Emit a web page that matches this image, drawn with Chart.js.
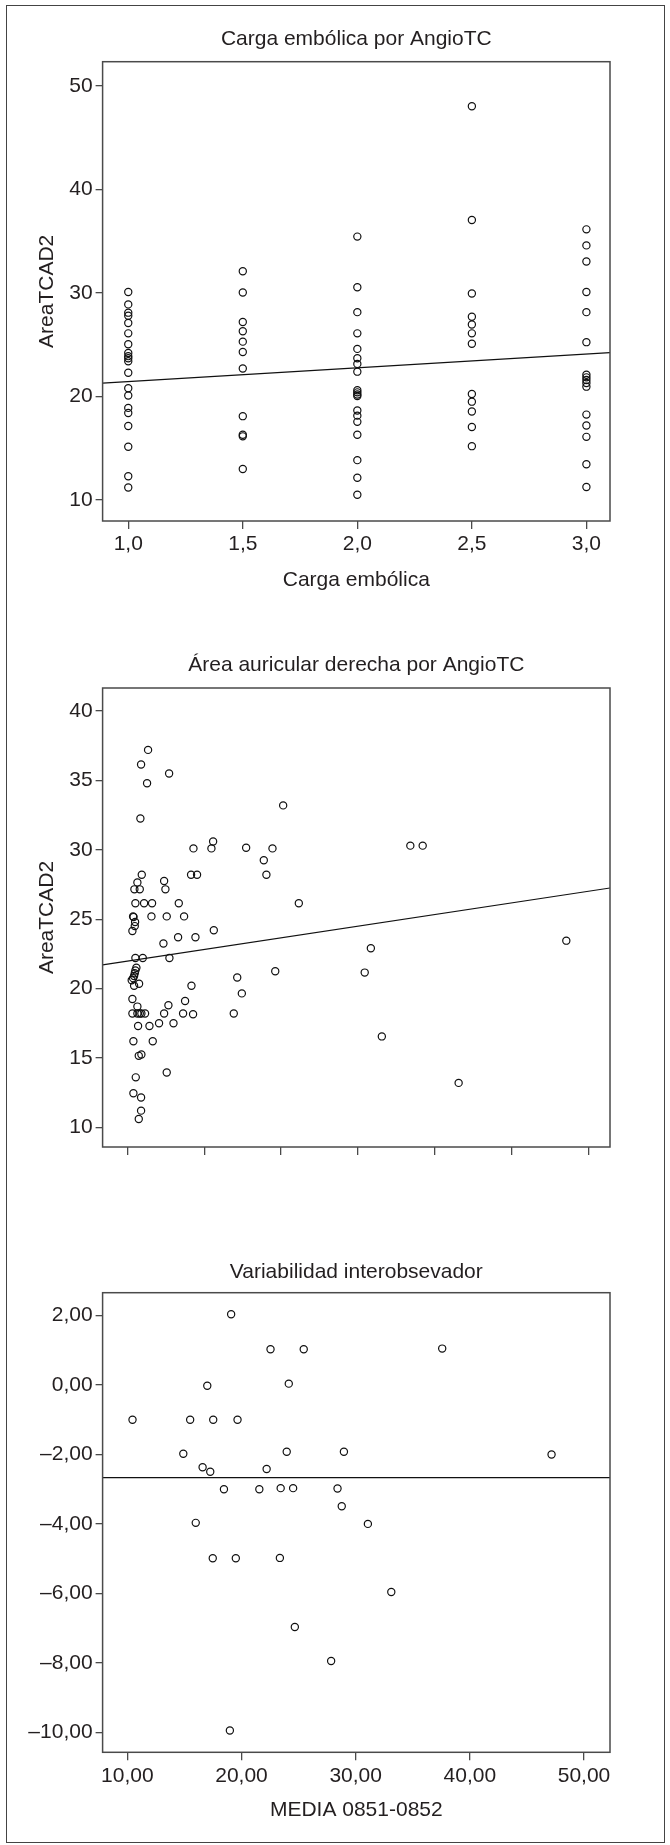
<!DOCTYPE html>
<html>
<head>
<meta charset="utf-8">
<script src="https://cdn.jsdelivr.net/npm/chart.js@4.4.1/dist/chart.umd.min.js"></script>
<style>
  body { margin: 0; background: #fff; }
  #page { position: relative; width: 670px; height: 1845px; }
  #page canvas { position: absolute; left: 0; }
  .border { position: absolute; left: 6px; top: 5px; width: 659px; height: 1838px;
            border: 1.5px solid #444; box-sizing: border-box; }
</style>
</head>
<body>
<div id="page">
  <div class="border"></div>
  <canvas id="carga" width="670" height="620" style="top:0;width:670px;height:620px"></canvas>
  <canvas id="auricular" width="670" height="580" style="top:620px;width:670px;height:580px"></canvas>
  <canvas id="variab" width="670" height="645" style="top:1200px;width:670px;height:645px"></canvas>
</div>
<script>
// --- Carga embólica por AngioTC ---
const CARGA_LEVELS = [1.0, 1.5, 2.0, 2.5, 3.0];
const AREA_CARGA_10 = [30.1, 28.9, 28.1, 27.8, 27.1, 26.1, 25.05, 24.2, 23.9, 23.7, 23.4, 22.3, 20.8, 20.1, 18.9, 18.4, 17.15, 15.15, 12.3, 11.2];
const AREA_CARGA_15 = [32.1, 30.05, 27.2, 26.3, 25.3, 24.3, 22.7, 18.1, 16.3, 16.15, 13.0];
const AREA_CARGA_20 = [35.45, 30.55, 28.15, 26.1, 24.6, 23.7, 23.15, 22.4, 20.6, 20.4, 20.2, 20.05, 18.65, 18.15, 17.55, 16.3, 13.85, 12.15, 10.5];
const AREA_CARGA_25 = [48.05, 37.05, 29.95, 27.7, 26.95, 26.1, 25.1, 20.25, 19.5, 18.55, 17.05, 15.2];
const AREA_CARGA_30 = [36.15, 34.6, 33.05, 30.1, 28.15, 25.25, 22.1, 21.85, 21.6, 21.3, 20.95, 18.25, 17.2, 16.1, 13.45, 11.25];
const CARGA_TICKS = [1.0, 1.5, 2.0, 2.5, 3.0];
const AREA1_TICKS = [10, 20, 30, 40, 50];
const FIT_CARGA = { intercept: 20.1, slope: 1.336 };

// --- Área auricular derecha por AngioTC (eje x sin rótulos) ---
const AURIC_X = [0.269, 0.178, 0.543, 0.256, 0.169, 2.028, 1.116, 1.094, 0.86, 1.546,
  1.889, 3.684, 3.845, 1.776, 1.81, 0.829, 0.907, 0.187, 0.13, 0.478,
  0.091, 0.161, 0.495, 0.104, 0.217, 0.321, 0.669, 2.232, 0.074, 0.08,
  0.313, 0.512, 0.738, 0.1, 0.096, 0.065, 1.125, 0.66, 0.886, 0.469,
  5.715, 3.17, 0.104, 0.2, 0.547, 0.117, 0.104, 0.096, 0.087, 0.074,
  0.056, 0.087, 0.152, 1.925, 3.09, 1.43, 0.834, 1.49, 0.065, 0.751,
  0.534, 0.13, 0.065, 0.13, 0.161, 0.182, 0.23, 0.478, 0.725, 0.855,
  1.385, 0.139, 0.287, 0.412, 0.6, 0.078, 0.33, 3.313, 0.148, 0.182,
  0.512, 0.109, 4.313, 0.078, 0.178, 0.178, 0.148];
const AURIC_Y = [37.2, 36.15, 35.5, 34.8, 32.25, 33.2, 30.6, 30.1, 30.1, 30.15,
  30.1, 30.3, 30.3, 29.25, 28.2, 28.2, 28.2, 28.2, 27.65, 27.75,
  27.15, 27.15, 27.15, 26.15, 26.15, 26.15, 26.15, 26.15, 25.2, 25.15,
  25.2, 25.2, 25.2, 24.8, 24.5, 24.15, 24.2, 23.7, 23.7, 23.25,
  23.45, 22.9, 22.2, 22.2, 22.2, 21.5, 21.3, 21.1, 20.9, 20.75,
  20.6, 20.2, 20.35, 21.25, 21.15, 20.8, 20.2, 19.65, 19.25, 19.1,
  18.8, 18.7, 18.2, 18.2, 18.2, 18.2, 18.2, 18.2, 18.2, 18.15,
  18.2, 17.3, 17.3, 17.5, 17.5, 16.2, 16.2, 16.55, 15.15, 15.25,
  13.95, 13.6, 13.2, 12.45, 12.15, 11.2, 10.6];
const AURIC_X_TICKS = [0, 1, 2, 3, 4, 5, 6];
const AREA2_TICKS = [10, 15, 20, 25, 30, 35, 40];
const FIT_AURIC = { intercept: 21.98, slope: 0.838 };

// --- Variabilidad interobsevador ---
const MEDIA = [19.09, 22.54, 25.45, 37.58, 17.0, 24.14, 10.45, 15.5, 17.52, 19.65,
  14.9, 23.96, 28.97, 47.16, 16.59, 17.26, 22.2, 18.46, 21.56, 23.43,
  24.52, 28.41, 28.78, 15.99, 31.07, 17.48, 19.5, 23.36, 33.12, 24.67,
  27.85, 18.98];
const DIFF = [2.04, 1.03, 1.03, 1.05, -0.02, 0.04, -1.0, -1.0, -1.0, -1.0,
  -1.98, -1.92, -1.92, -2.0, -2.37, -2.5, -2.42, -3.0, -3.0, -2.97,
  -2.97, -2.98, -3.49, -3.97, -4.0, -4.99, -4.99, -4.98, -5.96, -6.97,
  -7.95, -9.95];
const MEDIA_TICKS = [10, 20, 30, 40, 50];
const DIFF_TICKS = [2, 0, -2, -4, -6, -8, -10];
const MEAN_DIFF = -2.67;

const INK = '#231f20';
const FRAME = '#4a4a4a';
Chart.defaults.font.family = "'Liberation Sans', Arial, sans-serif";
Chart.defaults.font.size = 21;
Chart.defaults.color = INK;

// full box around the plot area
const framePlugin = {
  id: 'frame',
  afterDatasetsDraw(chart) {
    const { ctx, chartArea: a } = chart;
    ctx.save();
    ctx.strokeStyle = FRAME;
    ctx.lineWidth = 1.5;
    ctx.strokeRect(a.left, a.top, a.right - a.left, a.bottom - a.top);
    ctx.restore();
  }
};

const comma = (v, d) => v.toFixed(d).replace('.', ',').replace('-', '\u2013');

function pointSet(points) {
  return {
    data: points,
    pointStyle: 'circle',
    pointRadius: 3.6,
    pointBorderWidth: 1.2,
    pointBorderColor: '#111',
    pointBackgroundColor: 'rgba(0,0,0,0)',
    showLine: false
  };
}

function lineSet(x0, x1, f) {
  return {
    data: [{ x: x0, y: f(x0) }, { x: x1, y: f(x1) }],
    showLine: true,
    pointRadius: 0,
    borderColor: '#111',
    borderWidth: 1.2
  };
}

// cfg: geometry of plot box in the canvas + axes
function makeChart(id, cfg) {
  const ctx = document.getElementById(id).getContext('2d');
  return new Chart(ctx, {
    type: 'scatter',
    data: { datasets: cfg.datasets },
    plugins: [framePlugin],
    options: {
      responsive: false,
      animation: false,
      layout: { padding: { left: 0, right: 670 - cfg.right, top: 0, bottom: 0 } },
      plugins: {
        legend: { display: false },
        tooltip: { enabled: false },
        title: {
          display: true,
          text: cfg.title,
          fullSize: false,
          color: INK,
          font: { size: 21, weight: 'normal' },
          padding: { top: cfg.titleY - 12.6, bottom: cfg.top - cfg.titleY - 12.6 }
        }
      },
      scales: {
        x: {
          type: 'linear',
          min: cfg.xMin, max: cfg.xMax,
          afterBuildTicks: s => { s.ticks = cfg.xTicks.map(v => ({ value: v })); },
          afterFit: s => { s.height = cfg.height - cfg.bottom; },
          grid: { drawOnChartArea: false, drawTicks: true, tickLength: 8, color: FRAME, lineWidth: 1.3 },
          border: { display: false },
          ticks: { display: cfg.xLabels, padding: 3, callback: cfg.xFormat, maxRotation: 0, autoSkip: false },
          title: cfg.xTitle
            ? { display: true, text: cfg.xTitle, font: { size: 21 }, padding: { top: 0, bottom: cfg.height - cfg.xTitleY - 12.6 } }
            : { display: false }
        },
        y: {
          type: 'linear',
          min: cfg.yMin, max: cfg.yMax,
          afterBuildTicks: s => { s.ticks = cfg.yTicks.map(v => ({ value: v })); },
          afterFit: s => { s.width = 102.6; },
          grid: { drawOnChartArea: false, drawTicks: true, tickLength: 7, color: FRAME, lineWidth: 1.3 },
          border: { display: false },
          ticks: { padding: 3, callback: cfg.yFormat, autoSkip: false },
          title: cfg.yTitle
            ? { display: true, text: cfg.yTitle, font: { size: 21 }, padding: { top: 47 - 12.6, bottom: 0 } }
            : { display: false }
        }
      }
    }
  });
}

// chart 1
const cargaPoints = [];
[AREA_CARGA_10, AREA_CARGA_15, AREA_CARGA_20, AREA_CARGA_25, AREA_CARGA_30].forEach((vals, i) => {
  vals.forEach(v => cargaPoints.push({ x: CARGA_LEVELS[i], y: v }));
});
const c1 = { xMin: 0.888, xMax: 3.103 };
makeChart('carga', {
  title: 'Carga embólica por AngioTC',
  height: 620, titleY: 39, top: 61.7, bottom: 521, right: 610,
  xMin: c1.xMin, xMax: c1.xMax, yMin: 7.97, yMax: 52.35,
  xTicks: CARGA_TICKS, yTicks: AREA1_TICKS,
  xLabels: true,
  xFormat: v => comma(v, 1), yFormat: v => String(v),
  xTitle: 'Carga embólica', xTitleY: 580,
  yTitle: 'AreaTCAD2',
  datasets: [
    pointSet(cargaPoints),
    lineSet(c1.xMin, c1.xMax, x => FIT_CARGA.intercept + FIT_CARGA.slope * x)
  ]
});

// chart 2
const auricPoints = AURIC_X.map((x, i) => ({ x, y: AURIC_Y[i] }));
const c2 = { xMin: -0.323, xMax: 6.284 };
makeChart('auricular', {
  title: 'Área auricular derecha por AngioTC',
  height: 580, titleY: 45, top: 68, bottom: 527, right: 610,
  xMin: c2.xMin, xMax: c2.xMax, yMin: 8.58, yMax: 41.66,
  xTicks: AURIC_X_TICKS, yTicks: AREA2_TICKS,
  xLabels: false,
  xFormat: v => '', yFormat: v => String(v),
  xTitle: null,
  yTitle: 'AreaTCAD2',
  datasets: [
    pointSet(auricPoints),
    lineSet(c2.xMin, c2.xMax, x => FIT_AURIC.intercept + FIT_AURIC.slope * x)
  ]
});

// chart 3
const variabPoints = MEDIA.map((x, i) => ({ x, y: DIFF[i] }));
const c3 = { xMin: 7.83, xMax: 52.28 };
makeChart('variab', {
  title: 'Variabilidad interobsevador',
  height: 645, titleY: 72.7, top: 92.7, bottom: 552.3, right: 610,
  xMin: c3.xMin, xMax: c3.xMax, yMin: -10.58, yMax: 2.66,
  xTicks: MEDIA_TICKS, yTicks: DIFF_TICKS,
  xLabels: true,
  xFormat: v => comma(v, 2), yFormat: v => comma(v, 2),
  xTitle: 'MEDIA 0851-0852', xTitleY: 610.7,
  yTitle: null,
  datasets: [
    pointSet(variabPoints),
    lineSet(c3.xMin, c3.xMax, () => MEAN_DIFF)
  ]
});
</script>
</body>
</html>
